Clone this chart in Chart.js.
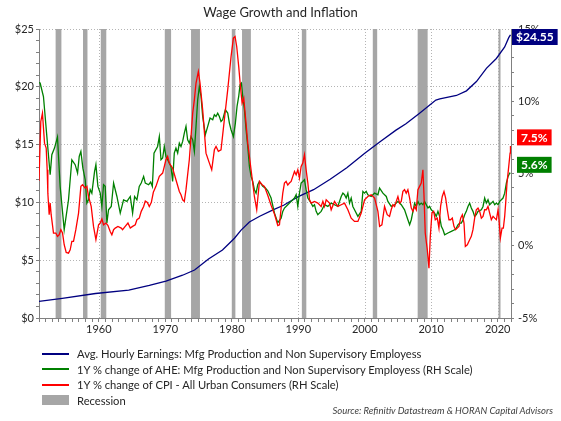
<!DOCTYPE html>
<html>
<head>
<meta charset="utf-8">
<script src="https://cdn.jsdelivr.net/npm/chart.js@4.4.1/dist/chart.umd.min.js"></script>
<style>
  body { margin: 0; background: #fff; }
  #wrap { position: relative; width: 561px; height: 421px; font-family: Lato, "Liberation Sans", sans-serif; color: #262626; }
  #title { position: absolute; left: 0; top: 4px; width: 561px; text-align: center; font-size: 13px; }
  #legend { position: absolute; left: 42px; top: 346px; font-size: 11.2px; }
  #legend .row { height: 15.5px; display: flex; align-items: center; white-space: nowrap; }
  #legend .sw { display: inline-block; width: 27px; margin-right: 8px; }
  #source { position: absolute; right: 8px; top: 405px; font-size: 9.5px; font-style: italic; color: #404040; }
</style>
</head>
<body>
<div id="wrap">
  <canvas id="chart" width="561" height="421"></canvas>
  <div id="title">Wage Growth and Inflation</div>
  <div id="legend"></div>
  <div id="source">Source: Refinitiv Datastream &amp; HORAN Capital Advisors</div>
</div>
<script>
// Avg. hourly earnings, $ (left scale)
const aheYears = [1950.92, 1954.5, 1959.5, 1964.5, 1967.6, 1970.1, 1972.6, 1974.4, 1976.5, 1978.6,
  1979.6, 1980.4, 1981.4, 1982.65, 1984.2, 1986.2, 1987.8, 1990.0, 1992.3, 1994.8,
  1997.3, 2000.0, 2002.3, 2004.7, 2006.2, 2008.2, 2010.7, 2011.3, 2013.8, 2015.3,
  2016.8, 2018.3, 2019.8, 2021.05, 2021.66, 2021.92];
const aheLevel = [1.43, 1.70, 2.12, 2.42, 2.82, 3.20, 3.70, 4.15, 5.10, 5.88,
  6.45, 6.90, 7.60, 8.30, 8.80, 9.35, 9.75, 10.50, 11.10, 12.00,
  13.00, 14.25, 15.25, 16.25, 16.80, 17.70, 18.85, 18.95, 19.25, 19.65,
  20.45, 21.60, 22.45, 23.45, 24.25, 24.50];

// 1Y % change of AHE (right scale)
const wageYears = [1951.0, 1951.17, 1951.67, 1952.18, 1952.68, 1952.93, 1953.33, 1953.78, 1954.18, 1954.79,
  1955.44, 1955.94, 1956.44, 1956.8, 1957.05, 1957.3, 1957.6, 1957.95, 1958.2, 1958.45,
  1958.7, 1958.95, 1959.36, 1959.56, 1959.86, 1960.21, 1960.46, 1960.71, 1960.96, 1961.21,
  1961.46, 1961.87, 1962.22, 1962.72, 1963.22, 1963.72, 1964.23, 1964.73, 1965.08, 1965.38,
  1965.73, 1966.08, 1966.38, 1966.74, 1966.99, 1967.49, 1967.8, 1968.05, 1968.3, 1968.84,
  1969.1, 1969.35, 1969.6, 1969.85, 1970.1, 1970.35, 1970.85, 1971.1, 1971.35, 1971.6,
  1971.86, 1972.11, 1972.36, 1972.61, 1972.86, 1973.11, 1973.36, 1973.61, 1973.87, 1974.12,
  1974.37, 1974.62, 1974.87, 1975.12, 1975.37, 1975.62, 1976.02, 1976.38, 1976.73, 1977.13,
  1977.38, 1977.63, 1977.88, 1978.13, 1978.38, 1978.63, 1979.03, 1979.39, 1979.64, 1979.89,
  1980.24, 1980.54, 1980.79, 1981.04, 1981.24, 1981.45, 1981.65, 1981.9, 1982.15, 1982.4,
  1982.65, 1982.9, 1983.15, 1983.4, 1983.65, 1983.9, 1984.16, 1984.66, 1985.06, 1985.41,
  1985.91, 1986.42, 1986.92, 1987.42, 1987.67, 1987.92, 1988.42, 1988.93, 1989.43, 1989.68,
  1989.93, 1990.18, 1990.43, 1990.68, 1990.93, 1991.18, 1991.44, 1991.94, 1992.19, 1992.44,
  1992.69, 1992.94, 1993.44, 1993.7, 1993.95, 1994.45, 1994.95, 1995.45, 1995.95, 1996.46,
  1996.71, 1996.96, 1997.21, 1997.46, 1997.71, 1997.96, 1998.21, 1998.46, 1998.97, 1999.47,
  1999.72, 1999.97, 2000.22, 2000.47, 2000.97, 2001.48, 2001.98, 2002.23, 2002.73, 2003.24,
  2003.48, 2003.98, 2004.49, 2004.99, 2005.49, 2005.99, 2006.49, 2006.75, 2007.0, 2007.25,
  2007.5, 2007.75, 2008.0, 2008.25, 2008.5, 2008.75, 2009.0, 2009.26, 2009.51, 2009.76,
  2010.01, 2010.26, 2010.51, 2010.76, 2011.01, 2011.26, 2011.52, 2011.77, 2012.02, 2012.52,
  2013.02, 2013.52, 2013.77, 2014.02, 2014.28, 2014.53, 2014.78, 2015.03, 2015.28, 2015.53,
  2015.78, 2016.03, 2016.28, 2016.53, 2016.78, 2017.04, 2017.54, 2017.79, 2018.04, 2018.29,
  2018.54, 2018.79, 2019.04, 2019.3, 2019.55, 2019.8, 2020.05, 2020.3, 2020.55, 2020.8,
  2021.05, 2021.3, 2021.56, 2021.81, 2021.92];
const wageGrowth = [11.30, 11.26, 10.33, 7.57, 4.91, 6.30, 6.76, 7.52, 4.11, 1.11,
  3.18, 5.95, 5.61, 5.03, 6.18, 6.53, 5.37, 4.57, 2.95, 3.18,
  3.88, 3.64, 5.14, 5.61, 4.11, 3.64, 2.72, 4.22, 4.11, 1.57,
  2.49, 2.72, 4.34, 3.41, 2.26, 3.18, 3.07, 3.41, 2.26, 3.41,
  3.18, 4.11, 4.34, 4.80, 4.34, 4.22, 4.40, 4.10, 6.40, 6.87,
  7.56, 5.95, 6.07, 6.87, 6.18, 5.95, 5.49, 4.45, 6.41, 6.76,
  6.41, 7.10, 6.87, 7.22, 7.80, 8.26, 7.33, 7.10, 7.56, 7.33,
  6.53, 8.26, 10.10, 11.02, 10.33, 8.95, 7.68, 8.26, 8.84, 8.72,
  9.07, 8.95, 9.18, 8.95, 8.60, 8.72, 9.41, 9.18, 8.49, 8.03,
  7.56, 8.49, 9.64, 10.33, 11.14, 11.26, 10.33, 9.41, 8.03, 6.87,
  5.49, 4.80, 4.45, 3.88, 3.64, 4.22, 4.45, 4.11, 3.99, 3.80,
  3.30, 2.26, 1.60, 1.91, 2.38, 2.61, 2.84, 3.07, 3.30, 3.53,
  2.72, 3.64, 4.34, 4.45, 4.57, 3.88, 3.30, 2.95, 2.72, 2.84,
  2.38, 2.15, 2.38, 2.61, 2.84, 2.72, 2.95, 2.84, 2.72, 3.41,
  3.64, 3.53, 3.30, 3.64, 2.95, 3.30, 2.72, 2.49, 2.03, 2.38,
  3.76, 3.64, 3.76, 3.53, 3.41, 3.64, 3.53, 3.99, 3.64, 3.41,
  3.07, 2.72, 2.84, 3.07, 2.84, 2.49, 1.80, 1.45, 1.80, 2.38,
  2.95, 2.72, 3.07, 2.84, 2.95, 2.84, 3.07, 2.84, 2.61, 2.72,
  2.49, 2.38, 2.26, 2.03, 2.38, 2.03, 1.34, 1.11, 0.76, 0.88,
  0.99, 1.11, 1.22, 1.45, 1.57, 1.57, 1.80, 2.15, 2.38, 2.72,
  2.95, 2.61, 2.38, 2.03, 2.15, 2.38, 2.49, 2.72, 3.30, 2.95,
  3.18, 2.84, 2.95, 3.07, 2.84, 2.95, 2.84, 3.07, 3.18, 3.30,
  3.64, 4.34, 4.80, 5.03, 5.00];

// 1Y % change of CPI (right scale)
const cpiYears = [1951.0, 1951.27, 1951.52, 1951.83, 1952.08, 1952.23, 1952.33, 1952.53, 1952.68, 1952.83,
  1953.18, 1953.53, 1953.78, 1954.03, 1954.29, 1954.54, 1954.79, 1955.09, 1955.44, 1955.69,
  1955.94, 1956.19, 1956.54, 1956.95, 1957.3, 1957.55, 1957.95, 1958.2, 1958.45, 1958.85,
  1959.2, 1959.56, 1959.96, 1960.21, 1960.46, 1960.71, 1961.06, 1961.36, 1961.71, 1961.96,
  1962.22, 1962.47, 1962.87, 1963.37, 1963.57, 1963.97, 1964.38, 1964.73, 1965.08, 1965.48,
  1965.73, 1966.08, 1966.38, 1966.74, 1966.99, 1967.3, 1967.59, 1967.9, 1968.2, 1968.59,
  1969.1, 1969.6, 1970.1, 1970.35, 1970.6, 1971.1, 1971.6, 1972.11, 1972.36, 1972.61,
  1972.86, 1973.11, 1973.61, 1973.87, 1974.12, 1974.37, 1974.62, 1974.97, 1975.22, 1975.62,
  1976.12, 1976.63, 1976.98, 1977.38, 1977.63, 1977.98, 1978.38, 1978.88, 1979.39, 1979.89,
  1980.24, 1980.49, 1980.74, 1981.04, 1981.3, 1981.55, 1981.8, 1982.05, 1982.4, 1982.9,
  1983.4, 1983.75, 1984.16, 1984.56, 1984.91, 1985.41, 1985.91, 1986.42, 1986.92, 1987.17,
  1987.42, 1987.67, 1987.92, 1988.17, 1988.42, 1988.67, 1988.93, 1989.18, 1989.43, 1989.68,
  1989.93, 1990.18, 1990.43, 1990.68, 1990.93, 1991.18, 1991.44, 1991.69, 1991.94, 1992.44,
  1992.94, 1993.44, 1993.7, 1993.95, 1994.2, 1994.7, 1994.95, 1995.45, 1995.95, 1996.46,
  1996.96, 1997.46, 1997.96, 1998.46, 1998.97, 1999.47, 1999.97, 2000.47, 2000.97, 2001.48,
  2001.98, 2002.23, 2002.58, 2002.98, 2003.38, 2003.73, 2003.98, 2004.23, 2004.49, 2004.74,
  2004.99, 2005.24, 2005.49, 2005.74, 2005.99, 2006.24, 2006.49, 2006.75, 2007.0, 2007.25,
  2007.5, 2007.75, 2008.0, 2008.25, 2008.5, 2008.75, 2008.9, 2009.1, 2009.41, 2009.66,
  2009.86, 2010.11, 2010.36, 2010.61, 2010.91, 2011.16, 2011.41, 2011.66, 2011.92, 2012.17,
  2012.42, 2012.67, 2012.92, 2013.17, 2013.42, 2013.67, 2013.92, 2014.17, 2014.43, 2014.68,
  2014.93, 2015.13, 2015.43, 2015.78, 2016.03, 2016.28, 2016.53, 2016.78, 2017.04, 2017.29,
  2017.54, 2017.79, 2018.04, 2018.29, 2018.54, 2018.79, 2019.04, 2019.3, 2019.55, 2019.8,
  2020.05, 2020.2, 2020.4, 2020.65, 2020.85, 2021.05, 2021.2, 2021.4, 2021.66, 2021.86,
  2021.92];
const cpiInflation = [4.50, 8.60, 9.18, 7.10, 6.76, 5.26, 3.64, 2.15, 2.95, 2.15,
  0.88, 0.88, 0.65, 0.76, 1.11, 0.88, 0.07, -0.46, -0.51, -0.28,
  0.30, 0.30, 1.11, 2.26, 4.11, 4.22, 3.99, 4.11, 3.41, 2.72,
  1.34, 0.42, 1.45, 1.57, 1.85, 1.45, 1.57, 1.41, 0.99, 0.76,
  1.11, 1.22, 1.34, 1.22, 1.11, 1.34, 1.57, 1.22, 1.34, 1.45,
  1.80, 1.91, 2.38, 2.72, 3.10, 3.00, 2.72, 3.00, 3.70, 4.11,
  4.80, 5.03, 5.95, 6.18, 5.72, 5.37, 4.57, 3.76, 3.53, 3.18,
  3.07, 3.88, 5.95, 7.56, 9.18, 10.10, 11.26, 12.06, 11.26, 9.41,
  6.41, 5.72, 5.26, 6.64, 6.87, 6.53, 6.64, 8.72, 10.80, 13.10,
  14.37, 14.48, 13.79, 12.41, 11.02, 9.87, 10.22, 8.95, 7.10, 5.26,
  3.41, 2.49, 4.45, 4.22, 4.11, 3.50, 2.80, 2.20, 1.40, 1.45,
  2.60, 3.64, 4.34, 4.45, 4.20, 4.34, 4.45, 4.80, 5.14, 4.91,
  5.26, 4.68, 5.49, 5.72, 6.30, 5.26, 4.34, 3.18, 2.95, 3.07,
  2.95, 2.72, 3.07, 2.72, 3.18, 2.95, 2.49, 3.07, 2.72, 2.84,
  2.95, 2.49, 1.91, 1.68, 1.68, 2.26, 3.18, 3.41, 3.53, 3.30,
  2.38, 1.34, 1.45, 2.72, 2.15, 2.03, 2.49, 2.84, 2.72, 3.07,
  3.41, 2.95, 3.07, 3.76, 3.88, 3.64, 3.88, 3.30, 2.61, 2.38,
  2.72, 2.49, 3.88, 4.11, 4.34, 5.26, 3.64, 0.88, -0.28, -1.55,
  0.65, 2.26, 2.38, 1.80, 1.91, 1.22, 2.72, 3.41, 3.76, 3.30,
  2.49, 1.80, 1.80, 1.91, 1.34, 1.11, 1.22, 1.34, 1.91, 2.15,
  1.57, -0.05, 0.07, 0.42, 0.65, 1.11, 1.91, 2.49, 2.61, 2.38,
  1.91, 2.03, 2.49, 2.49, 2.72, 2.26, 1.80, 2.03, 1.91, 1.80,
  2.49, 1.80, 0.53, 1.22, 1.22, 2.03, 2.95, 4.34, 5.49, 6.41,
  6.90];

// NBER recessions, decimal years
const recessionStart = [1953.50, 1957.62, 1960.29, 1969.92, 1973.87, 1980.00, 1981.54, 1990.54, 2001.21, 2007.96, 2020.12];
const recessionEnd   = [1954.37, 1958.29, 1961.12, 1970.87, 1975.21, 1980.54, 1982.87, 1991.21, 2001.87, 2009.46, 2020.29];

// latest values shown in the boxes on the right (AHE level, CPI, AHE growth)
const endLabelText  = ['$24.55', '7.5%', '5.6%'];
const endLabelValue = [24.55, 7.5, 5.6];

const seriesLabels = [
  'Avg. Hourly Earnings: Mfg Production and Non Supervisory Employess',
  '1Y % change of AHE: Mfg Production and Non Supervisory Employess (RH Scale)',
  '1Y % change of CPI - All Urban Consumers (RH Scale)'
];
const colors = ['#000080', '#008000', '#ff0000'];
const endLabelColors = [colors[0], colors[2], colors[1]];
const recessionColor = '#a6a6a6';
const axisGray = '#808080';
const gridGray = '#b4b4b4';

const toPoints = (xs, ys) => xs.map((x, i) => ({ x: x, y: ys[i] }));

// dotted decade lines + grey recession bands, under the series
const backdrop = {
  id: 'backdrop',
  beforeDatasetsDraw(chart) {
    const { ctx, chartArea, scales } = chart;
    ctx.save();
    ctx.strokeStyle = gridGray;
    ctx.lineWidth = 1;
    ctx.setLineDash([1, 2]);
    scales.x.ticks.forEach(t => {
      if (Math.abs(t.value % 10) > 1e-6) return;
      const px = Math.round(scales.x.getPixelForValue(t.value)) + 0.5;
      ctx.beginPath();
      ctx.moveTo(px, chartArea.top);
      ctx.lineTo(px, chartArea.bottom);
      ctx.stroke();
    });
    ctx.setLineDash([]);
    ctx.fillStyle = recessionColor;
    recessionStart.forEach((s, i) => {
      const x0 = scales.x.getPixelForValue(s);
      const x1 = scales.x.getPixelForValue(recessionEnd[i]);
      ctx.fillRect(x0, chartArea.top, Math.max(x1 - x0, 2), chartArea.bottom - chartArea.top);
    });
    ctx.restore();
  }
};

const endLabels = {
  id: 'endLabels',
  afterDraw(chart) {
    const { ctx, chartArea, scales } = chart;
    const axes = [scales.yL, scales.yR, scales.yR];
    ctx.save();
    ctx.font = 'bold 12px Lato, "Liberation Sans", sans-serif';
    ctx.textBaseline = 'middle';
    ctx.textAlign = 'center';
    endLabelText.forEach((t, i) => {
      const cy = Math.max(axes[i].getPixelForValue(endLabelValue[i]), chartArea.top + 8);
      const w = ctx.measureText(t).width + 8;
      const x0 = chartArea.right + (i === 0 ? 1 : 6);
      ctx.fillStyle = endLabelColors[i];
      ctx.fillRect(x0, cy - 8, w, 16);
      ctx.fillStyle = '#fff';
      ctx.fillText(t, x0 + w / 2, cy + 0.5);
    });
    ctx.restore();
  }
};

// legend below the chart
const legendEl = document.getElementById('legend');
seriesLabels.forEach((lbl, i) => {
  legendEl.insertAdjacentHTML('beforeend',
    '<div class="row"><span class="sw" style="border-top:2px solid ' + colors[i] + '"></span>' + lbl + '</div>');
});
legendEl.insertAdjacentHTML('beforeend',
  '<div class="row"><span class="sw" style="height:10px;background:' + recessionColor + '"></span>Recession</div>');

Chart.defaults.font.family = 'Lato, "Liberation Sans", sans-serif';
Chart.defaults.font.size = 11;
Chart.defaults.color = '#262626';

new Chart(document.getElementById('chart'), {
  type: 'line',
  data: {
    datasets: [
      { label: seriesLabels[0], data: toPoints(aheYears, aheLevel), yAxisID: 'yL', borderColor: colors[0], order: 3 },
      { label: seriesLabels[1], data: toPoints(wageYears, wageGrowth), yAxisID: 'yR', borderColor: colors[1], order: 2 },
      { label: seriesLabels[2], data: toPoints(cpiYears, cpiInflation), yAxisID: 'yR', borderColor: colors[2], order: 1 }
    ]
  },
  options: {
    responsive: false,
    animation: false,
    devicePixelRatio: 1,
    layout: { padding: { top: 29, left: 0, right: 0, bottom: 81 } },
    elements: {
      line: { borderWidth: 1.3, tension: 0, fill: false },
      point: { radius: 0 }
    },
    plugins: { legend: { display: false }, tooltip: { enabled: false } },
    scales: {
      x: {
        type: 'linear',
        min: 1951,
        max: 2022,
        afterFit: s => { s.height = 22; },
        ticks: {
          stepSize: 1, autoSkip: false, maxRotation: 0, padding: 1,
          callback: v => (v % 10 === 0 ? String(v) : '')
        },
        grid: { drawOnChartArea: false, tickColor: axisGray, tickLength: 4 },
        border: { color: axisGray }
      },
      yL: {
        position: 'left',
        min: 0,
        max: 25,
        afterFit: s => { s.width = 39; },
        ticks: {
          stepSize: 1, autoSkip: false, padding: 2,
          callback: v => (v % 5 === 0 ? '$' + v : '')
        },
        grid: {
          color: c => (c.tick && c.tick.value % 5 === 0 && c.tick.value > 0 ? gridGray : 'transparent'),
          tickColor: axisGray, tickLength: 3
        },
        border: { color: axisGray, dash: [1, 2] }
      },
      yR: {
        position: 'right',
        min: -5,
        max: 15,
        afterFit: s => { s.width = 50; },
        ticks: {
          stepSize: 1, autoSkip: false, padding: 4,
          callback: v => (v % 5 === 0 ? v + '%' : '')
        },
        grid: { drawOnChartArea: false, tickColor: axisGray, tickLength: 3 },
        border: { color: axisGray }
      }
    }
  },
  plugins: [backdrop, endLabels]
});
</script>
</body>
</html>
